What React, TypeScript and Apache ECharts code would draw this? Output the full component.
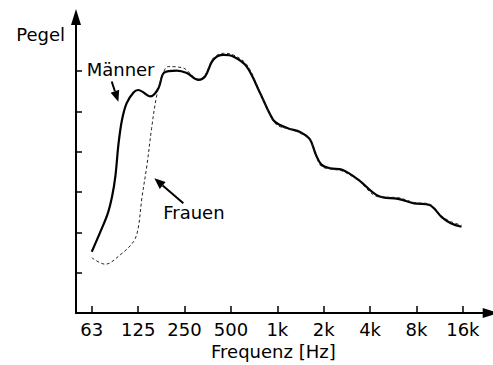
import React, { useEffect, useRef } from "react";
import * as echarts from "echarts";

// Octave-band tick labels along the frequency axis (63 Hz … 16 kHz)
const tickLabels = ["63", "125", "250", "500", "1k", "2k", "4k", "8k", "16k"];
const levelTicks = [1, 2, 3, 4, 5, 6];

// Speech spectrum, men: position in octaves above 63 Hz, relative level
const maennerOctave = [
  0, 0.18, 0.34, 0.44, 0.51, 0.575, 0.65, 0.75, 0.9, 1.0, 1.27, 1.44, 1.56,
  1.83, 2.05, 2.3, 2.44, 2.62, 2.84, 3.05, 3.34, 3.63, 3.91, 4.06, 4.25, 4.49,
  4.7, 4.83, 4.95, 5.14, 5.4, 5.75, 6.18, 6.6, 6.95, 7.28, 7.55, 7.75, 7.97,
];
const maennerLevel = [
  1.52, 2.0, 2.45, 2.9, 3.4, 4.18, 4.78, 5.2, 5.47, 5.53, 5.37, 5.58, 5.96,
  6.01, 5.95, 5.78, 5.86, 6.28, 6.4, 6.36, 6.11, 5.45, 4.79, 4.66, 4.57, 4.49,
  4.31, 3.93, 3.68, 3.59, 3.55, 3.3, 2.9, 2.83, 2.72, 2.68, 2.37, 2.22, 2.14,
];

// Speech spectrum, women
const frauenOctave = [
  0, 0.29, 0.61, 0.9, 1.0, 1.08, 1.19, 1.29, 1.39, 1.51, 1.65, 1.98, 2.2, 2.3,
  2.44, 2.62, 2.84, 3.05, 3.34, 3.63, 3.91, 4.06, 4.25, 4.49, 4.7, 4.83, 4.95,
  5.14, 5.4, 5.75, 6.18, 6.6, 6.95, 7.28, 7.55, 7.75, 7.97,
];
const frauenLevel = [
  1.37, 1.21, 1.44, 1.77, 2.1, 2.85, 3.67, 4.58, 5.33, 5.86, 6.11, 6.07, 5.85,
  5.8, 5.9, 6.32, 6.44, 6.4, 6.16, 5.47, 4.76, 4.62, 4.57, 4.46, 4.3, 3.9, 3.64,
  3.57, 3.52, 3.28, 2.88, 2.86, 2.74, 2.7, 2.4, 2.26, 2.18,
];

// Curve labels with pointer arrows, anchored in data space
const annotations = [
  { text: "Männer", label: [-0.11, 6.05], tail: [0.43, 5.74], tip: [0.573, 5.24] },
  { text: "Frauen", label: [1.54, 2.49], tail: [1.974, 2.72], tip: [1.349, 3.34] },
];

const FONT = "DejaVu Sans";
const FONT_SIZE = 18;

export default function App() {
  const ref = useRef<HTMLDivElement>(null);

  useEffect(() => {
    if (!ref.current) return;
    const chart = echarts.init(ref.current, null, { renderer: "svg" });
    const tickPositions = tickLabels.map((_, i) => i);

    chart.setOption({
      animation: false,
      backgroundColor: "#fff",
      grid: {
        left: 76,
        right: 2.3,
        top: 17,
        bottom: 52,
        containLabel: false,
        outerBoundsMode: "none",
      },
      xAxis: {
        type: "value",
        min: -0.34,
        max: 8.6,
        splitLine: { show: false },
        axisLine: {
          show: true,
          onZero: false,
          symbol: ["none", "triangle"],
          symbolSize: [10, 16],
          lineStyle: { color: "#000", width: 2 },
        },
        axisTick: {
          show: true,
          inside: true,
          length: 7,
          customValues: tickPositions,
          lineStyle: { color: "#000", width: 1.5 },
        },
        axisLabel: {
          show: true,
          customValues: tickPositions,
          formatter: (v: number) => tickLabels[Math.round(v)] ?? "",
          color: "#000",
          fontFamily: FONT,
          fontSize: FONT_SIZE,
          margin: 16,
          verticalAlign: "middle",
        },
        name: "Frequenz [Hz]",
        nameLocation: "middle",
        nameGap: 38,
        nameTextStyle: {
          color: "#000",
          fontFamily: FONT,
          fontSize: FONT_SIZE,
          verticalAlign: "middle",
          padding: [0, 20, 0, 0],
        },
      },
      yAxis: {
        type: "value",
        min: 0,
        max: 7.34,
        splitLine: { show: false },
        axisLine: {
          show: true,
          onZero: false,
          symbol: ["none", "triangle"],
          symbolSize: [10, 16],
          lineStyle: { color: "#000", width: 2 },
        },
        axisTick: {
          show: true,
          inside: true,
          length: 6,
          customValues: levelTicks,
          lineStyle: { color: "#000", width: 1.5 },
        },
        axisLabel: { show: false },
        name: "Pegel",
        nameLocation: "end",
        nameGap: -17,
        nameTextStyle: {
          color: "#000",
          fontFamily: FONT,
          fontSize: FONT_SIZE,
          align: "right",
          verticalAlign: "middle",
          padding: [0, 11, 0, 0],
        },
      },
      series: [
        {
          name: "Männer",
          type: "line",
          data: maennerOctave.map((x, i) => [x, maennerLevel[i]]),
          showSymbol: false,
          smooth: 0.35,
          lineStyle: { color: "#000", width: 2.2 },
          z: 2,
        },
        {
          name: "Frauen",
          type: "line",
          data: frauenOctave.map((x, i) => [x, frauenLevel[i]]),
          showSymbol: false,
          smooth: 0.35,
          lineStyle: { color: "#222", width: 1, type: [3, 2.5] },
          z: 3,
        },
      ],
    });

    // Labels and arrows placed through the grid's coordinate system
    const toPx = (p: number[]) =>
      chart.convertToPixel({ gridIndex: 0 }, p) as number[];
    const HEAD_LEN = 11;
    const HEAD_W = 9;
    const graphic: any[] = [];
    annotations.forEach((a) => {
      const l = toPx(a.label);
      const s = toPx(a.tail);
      const t = toPx(a.tip);
      const dx = t[0] - s[0];
      const dy = t[1] - s[1];
      const len = Math.hypot(dx, dy);
      const ux = dx / len;
      const uy = dy / len;
      const bx = t[0] - ux * HEAD_LEN;
      const by = t[1] - uy * HEAD_LEN;
      const nx = -uy * (HEAD_W / 2);
      const ny = ux * (HEAD_W / 2);
      graphic.push(
        {
          type: "text",
          x: l[0],
          y: l[1],
          style: {
            text: a.text,
            fill: "#000",
            font: `${FONT_SIZE}px "${FONT}"`,
            textAlign: "left",
            textVerticalAlign: "middle",
          },
        },
        {
          type: "line",
          shape: { x1: s[0], y1: s[1], x2: bx, y2: by },
          style: { stroke: "#000", lineWidth: 2 },
        },
        {
          type: "polygon",
          shape: {
            points: [
              [t[0], t[1]],
              [bx + nx, by + ny],
              [bx - nx, by - ny],
            ],
          },
          style: { fill: "#000" },
        }
      );
    });
    chart.setOption({ graphic });

    return () => chart.dispose();
  }, []);

  return (
    <div
      ref={ref}
      style={{
        position: "fixed",
        left: 0,
        top: 0,
        width: 493,
        height: 365,
        background: "#fff",
      }}
    />
  );
}
